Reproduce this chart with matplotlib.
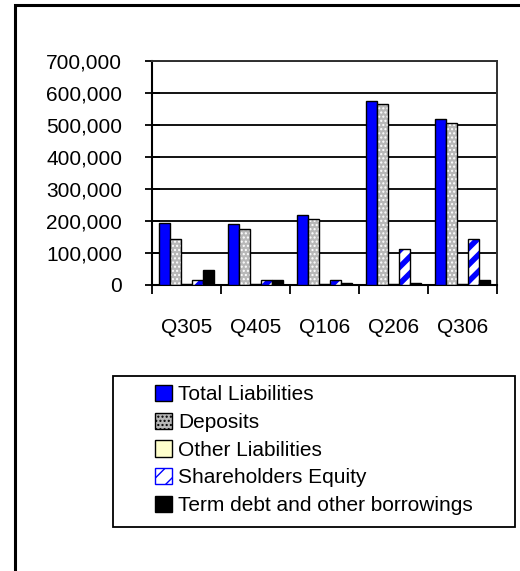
"""
Balance sheet components by quarter: grouped bar chart.
"""

import matplotlib
matplotlib.use('Agg')
import matplotlib.pyplot as plt
from matplotlib import font_manager
from matplotlib.patches import Rectangle
from matplotlib.ticker import FuncFormatter, FixedLocator
import numpy as np

# --- data ---
quarters = ['Q305', 'Q405', 'Q106', 'Q206', 'Q306']
total_liabilities = [193000, 188000, 219000, 575000, 518000]
deposits = [144000, 175000, 206000, 565000, 506000]
other_liabilities = [1000, 1000, 1000, 1000, 1000]
shareholders_equity = [14000, 13000, 13000, 112000, 144000]
term_debt = [45000, 13000, 6000, 5000, 13000]

series_names = ['Total Liabilities', 'Deposits', 'Other Liabilities',
                'Shareholders Equity', 'Term debt and other borrowings']

# narrow font if we have it, otherwise plain Liberation Sans a bit smaller
available = {f.name for f in font_manager.fontManager.ttflist}
if 'Liberation Sans Narrow' in available:
    fam, fsize = 'Liberation Sans Narrow', 18
else:
    fam, fsize = 'Liberation Sans', 15
plt.rcParams['font.family'] = [fam, 'DejaVu Sans']

W, H = 520, 571
fig = plt.figure(figsize=(W / 100, H / 100), dpi=100)

def px(x0, y0, x1, y1):
    # pixel box -> figure fraction [left, bottom, width, height]
    return [x0 / W, 1 - y1 / H, (x1 - x0) / W, (y1 - y0) / H]

ax = fig.add_axes(px(152, 61, 497, 284.5))

x = np.arange(len(quarters))
bw = 0.16
offs = [(k - 2) * bw for k in range(5)]

# 1. total liabilities - solid blue
ax.bar(x + offs[0], total_liabilities, bw, color='#0000ff',
       edgecolor='black', linewidth=1.0, zorder=3)

# 2. deposits - gray with white dots (hatch layer + outline layer)
with plt.rc_context({'hatch.linewidth': 1.0}):
    ax.bar(x + offs[1], deposits, bw, facecolor='#b8b8b8', edgecolor='white',
           hatch='....', linewidth=0, zorder=3)
ax.bar(x + offs[1], deposits, bw, fill=False, edgecolor='black',
       linewidth=1.0, zorder=4)

# 3. other liabilities - pale yellow
ax.bar(x + offs[2], other_liabilities, bw, color='#ffffcc',
       edgecolor='black', linewidth=1.0, zorder=3)

# 4. shareholders equity - white with wide blue stripes
with plt.rc_context({'hatch.linewidth': 4.0}):
    ax.bar(x + offs[3], shareholders_equity, bw, facecolor='white',
           edgecolor='#0000ff', hatch='//', linewidth=0, zorder=3)
ax.bar(x + offs[3], shareholders_equity, bw, fill=False, edgecolor='black',
       linewidth=1.0, zorder=4)

# 5. term debt - black
ax.bar(x + offs[4], term_debt, bw, color='black',
       edgecolor='black', linewidth=1.0, zorder=3)

# --- axes styling ---
ax.set_xlim(-0.5, len(quarters) - 0.5)
ax.set_ylim(0, 700000)
ax.set_yticks(np.arange(0, 700001, 100000))
ax.yaxis.set_major_formatter(FuncFormatter(lambda v, p: f'{int(v):,}'))
ax.grid(axis='y', color='black', linewidth=1.3, zorder=1)
ax.set_axisbelow(True)

ax.set_xticks(x)
ax.set_xticklabels(quarters)
ax.xaxis.set_minor_locator(FixedLocator(np.arange(-0.5, len(quarters), 1.0)))
ax.tick_params(axis='x', which='major', length=0, pad=24, labelsize=fsize)
ax.tick_params(axis='x', which='minor', direction='out', length=6.5,
               width=1.3, color='black')
ax.tick_params(axis='y', direction='inout', length=10.8, width=1.3,
               pad=16, labelsize=fsize)

for s in ['left', 'bottom']:
    ax.spines[s].set_linewidth(1.5)
    ax.spines[s].set_color('black')
for s in ['top', 'right']:
    ax.spines[s].set_linewidth(1.4)
    ax.spines[s].set_color('#303030')

# --- legend ---
with plt.rc_context({'hatch.linewidth': 1.0}):
    h_dep = Rectangle((0, 0), 1, 1, facecolor='#b8b8b8', edgecolor='black',
                      hatch='....', linewidth=1.0)
with plt.rc_context({'hatch.linewidth': 4.0}):
    h_eq = Rectangle((0, 0), 1, 1, facecolor='white', edgecolor='#0000ff',
                     hatch='//', linewidth=1.0)
handles = [
    Rectangle((0, 0), 1, 1, facecolor='#0000ff', edgecolor='black', linewidth=1.0),
    h_dep,
    Rectangle((0, 0), 1, 1, facecolor='#ffffcc', edgecolor='black', linewidth=1.0),
    h_eq,
    Rectangle((0, 0), 1, 1, facecolor='black', edgecolor='black', linewidth=1.0),
]
leg = fig.legend(handles, series_names, loc='upper left',
                 bbox_to_anchor=(155 / W, 1 - 385 / H),
                 frameon=False, fontsize=fsize, borderpad=0, borderaxespad=0,
                 handlelength=0.82, handleheight=0.82, handletextpad=0.3,
                 labelspacing=0.4)

# legend frame
fig.patches.append(Rectangle((113 / W, 1 - 527 / H), (515 - 113) / W,
                             (527 - 376) / H, fill=False, edgecolor='black',
                             linewidth=1.3, transform=fig.transFigure))

# outer border of the chart area (runs off the right and bottom edges)
fig.patches.append(Rectangle((14.5 / W, -0.1), 1.2, 1.1 - 5 / H,
                             fill=False, edgecolor='black', linewidth=2.2,
                             transform=fig.transFigure))

fig.savefig('out.png', dpi=100, facecolor='white')
